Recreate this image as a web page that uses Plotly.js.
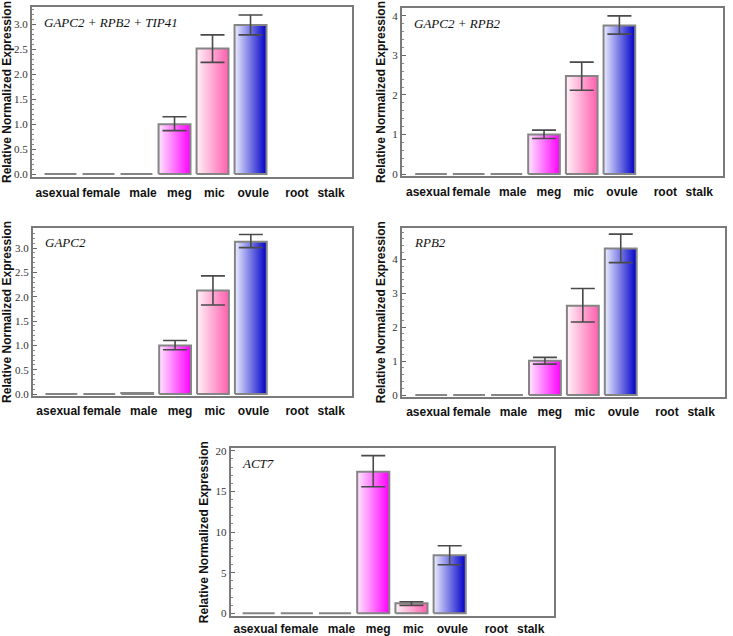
<!DOCTYPE html>
<html>
<head>
<meta charset="utf-8">
<script src="https://cdn.plot.ly/plotly-3.0.1.min.js"></script>
<style>html,body{margin:0;padding:0;background:#fff;}#chart{width:733px;height:636px;}</style>
</head>
<body>
<div id="chart"></div>
<script>
// ---------- data ----------
const categories = ['asexual', 'female', 'male', 'meg', 'mic', 'ovule', 'root', 'stalk'];
const panelTitles = ['GAPC2 + RPB2 + TIP41', 'GAPC2 + RPB2', 'GAPC2', 'RPB2', 'ACT7'];

// mean relative normalized expression (null = no bar)
const meanGAPC2_RPB2_TIP41 = [0, 0, 0, 1.00, 2.52, 2.99, null, null];
const meanGAPC2_RPB2       = [0, 0, 0, 1.00, 2.48, 3.76, null, null];
const meanGAPC2            = [0, 0, 0.02, 1.00, 2.13, 3.13, null, null];
const meanRPB2             = [0, 0, 0, 1.01, 2.63, 4.32, null, null];
const meanACT7             = [0, 0, 0, 17.42, 1.23, 7.13, null, null];

// error bar upper / lower limits
const upperGAPC2_RPB2_TIP41 = [null, null, null, 1.15, 2.79, 3.19, null, null];
const lowerGAPC2_RPB2_TIP41 = [null, null, null, 0.87, 2.24, 2.79, null, null];
const upperGAPC2_RPB2 = [null, null, null, 1.11, 2.83, 4.00, null, null];
const lowerGAPC2_RPB2 = [null, null, null, 0.90, 2.12, 3.54, null, null];
const upperGAPC2 = [null, null, null, 1.10, 2.43, 3.28, null, null];
const lowerGAPC2 = [null, null, null, 0.91, 1.83, 3.01, null, null];
const upperRPB2 = [null, null, null, 1.11, 3.14, 4.74, null, null];
const lowerRPB2 = [null, null, null, 0.91, 2.15, 3.90, null, null];
const upperACT7 = [null, null, null, 19.40, 1.43, 8.32, null, null];
const lowerACT7 = [null, null, null, 15.57, 0.98, 5.98, null, null];

// y tick steps
const yTickStep = [0.5, 1, 0.5, 1, 5];

// ---------- styling ----------
const barColor = {meg: '#ff00ff', mic: '#ff5fae', ovule: '#0000c8'};
const barLight = {meg: '#ffe6ff', mic: '#fff2f8', ovule: '#eceeff'};
// small label offsets (in category units) as in the original figure
const labelShift = [-0.08, 0.07, 0.17, 0.13, 0.05, 0.07, 0.22, 0.12];
const labelStandoff = [4, 4, 3, 3, 1];

const panels = [
  {mean: meanGAPC2_RPB2_TIP41, up: upperGAPC2_RPB2_TIP41, lo: lowerGAPC2_RPB2_TIP41,
   xd: [32/733, 352/733], yd: [1-177/636, 1-7/636], yr: [-0.06, 3.35], xr: [-0.75, 7.67]},
  {mean: meanGAPC2_RPB2, up: upperGAPC2_RPB2, lo: lowerGAPC2_RPB2,
   xd: [402/733, 723/733], yd: [1-176/636, 1-8/636], yr: [-0.05, 4.2], xr: [-0.77, 7.75]},
  {mean: meanGAPC2, up: upperGAPC2, lo: lowerGAPC2,
   xd: [33/733, 352/733], yd: [1-396/636, 1-227.7/636], yr: [-0.04, 3.42], xr: [-0.75, 7.67]},
  {mean: meanRPB2, up: upperRPB2, lo: lowerRPB2,
   xd: [402/733, 725/733], yd: [1-396.7/636, 1-227.7/636], yr: [-0.05, 4.93], xr: [-0.77, 7.75]},
  {mean: meanACT7, up: upperACT7, lo: lowerACT7,
   xd: [230.7/733, 554/733], yd: [1-616/636, 1-448.3/636], yr: [-0.33, 20.3], xr: [-0.73, 7.73]}
];

const barW = 0.84;
const traces = [];
const layout = {
  width: 733, height: 636,
  margin: {l: 0, r: 0, t: 0, b: 0},
  paper_bgcolor: '#fff', plot_bgcolor: '#fff',
  showlegend: false,
  annotations: []
};

panels.forEach((p, k) => {
  const n = k + 1;
  const xa = 'x' + (n === 1 ? '' : n), ya = 'y' + (n === 1 ? '' : n);
  const xKey = 'xaxis' + (n === 1 ? '' : n), yKey = 'yaxis' + (n === 1 ? '' : n);
  const rKey = 'yaxis' + (n + 5);

  // bars drawn as filled rectangles with a horizontal gradient
  p.mean.forEach((v, i) => {
    if (v === null) return;
    const cat = categories[i];
    const x0 = i - barW / 2, x1 = i + barW / 2;
    const t = {
      type: 'scatter', mode: 'lines', xaxis: xa, yaxis: ya,
      x: [x0, x0, x1, x1, x0], y: [0, v, v, 0, 0],
      line: {color: '#858585', width: 2},
      hoverinfo: 'skip'
    };
    if (barColor[cat]) {
      t.fill = 'toself';
      t.fillcolor = barColor[cat];
      t.fillgradient = {type: 'horizontal', colorscale: [[0, barLight[cat]], [1, barColor[cat]]]};
    }
    traces.push(t);
  });

  // error bars
  const idx = [], ys = [], ups = [], downs = [];
  p.mean.forEach((v, i) => {
    if (p.up[i] === null) return;
    idx.push(i); ys.push(v); ups.push(p.up[i] - v); downs.push(v - p.lo[i]);
  });
  traces.push({
    type: 'scatter', mode: 'markers', xaxis: xa, yaxis: ya,
    x: idx, y: ys, marker: {size: 1, opacity: 0},
    error_y: {type: 'data', symmetric: false, array: ups, arrayminus: downs,
              color: '#4a4a4a', thickness: 1.6, width: 12},
    hoverinfo: 'skip'
  });

  layout[xKey] = {
    domain: p.xd, anchor: ya, range: p.xr,
    tickmode: 'array', tickvals: categories.map((c, i) => i + labelShift[i]), ticktext: categories,
    tickangle: 0,
    ticks: '', showgrid: false, zeroline: false,
    showline: true, mirror: true, linecolor: '#7a7a7a', linewidth: 2,
    tickfont: {family: 'Liberation Sans, Arial, sans-serif', size: 12, color: '#111', weight: 'bold'},
    ticklabelstandoff: labelStandoff[k]
  };
  const minorTicks = {dtick: yTickStep[k] / 5, ticks: 'inside', ticklen: 2, tickcolor: '#888', tickwidth: 1};
  layout[yKey] = {
    domain: p.yd, anchor: xa, range: p.yr,
    dtick: yTickStep[k], tick0: 0,
    tickformat: yTickStep[k] < 1 ? '.1f' : 'd',
    ticks: 'inside', ticklen: 4, tickwidth: 1, tickcolor: '#666',
    minor: minorTicks,
    showgrid: false, zeroline: false,
    showline: true, mirror: true, linecolor: '#7a7a7a', linewidth: 2,
    tickfont: {family: 'Liberation Serif, Times New Roman, serif', size: 11, color: '#333'},
    title: {text: 'Relative Normalized Expression', standoff: 4,
            font: {family: 'Liberation Sans, Arial, sans-serif', size: 12, color: '#111', weight: 'bold'}}
  };
  // right-hand tick marks (same scale, no labels)
  layout[rKey] = {
    domain: p.yd, anchor: xa, overlaying: ya, side: 'right', range: p.yr,
    dtick: yTickStep[k], tick0: 0, showticklabels: false,
    ticks: 'inside', ticklen: 4, tickwidth: 1, tickcolor: '#666',
    minor: minorTicks, showgrid: false, zeroline: false, showline: false
  };

  layout.annotations.push({
    xref: xa + ' domain', yref: ya + ' domain',
    x: 0.03, y: 0.91, xanchor: 'left', yanchor: 'middle', showarrow: false,
    text: '<i>' + panelTitles[k] + '</i>',
    font: {family: 'Liberation Serif, Times New Roman, serif', size: 13, color: '#111'}
  });
});

Plotly.newPlot('chart', traces, layout, {displayModeBar: false, staticPlot: true});
</script>
</body>
</html>
